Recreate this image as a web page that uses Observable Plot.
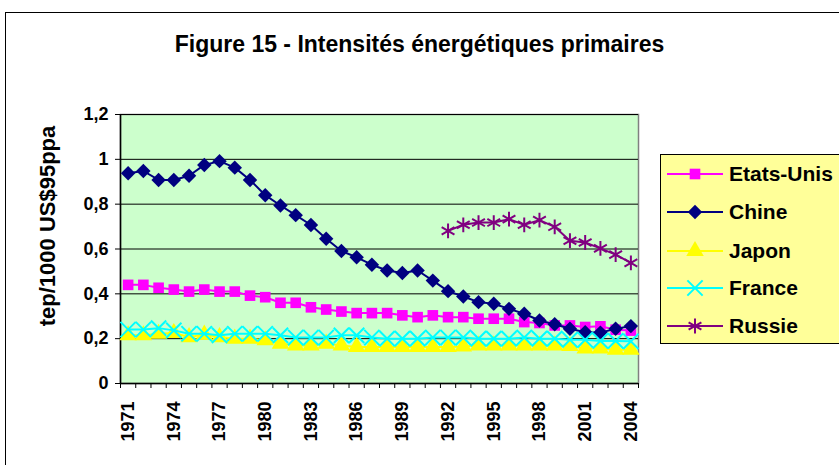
<!DOCTYPE html>
<html><head><meta charset="utf-8">
<script src="https://cdn.jsdelivr.net/npm/d3@7"></script>
<script src="https://cdn.jsdelivr.net/npm/@observablehq/plot@0.6"></script>
<style>
body{margin:0;background:#fff;font-family:"Liberation Sans",Arial,sans-serif;}
#wrap{position:relative;width:839px;height:465px;overflow:hidden;}
#border{position:absolute;left:5px;top:12px;width:860px;height:480px;border:1px solid #000;}
#chart{position:absolute;left:0;top:0;}
#title{position:absolute;left:0;width:839px;top:31px;text-align:center;font-weight:bold;font-size:23px;}
#ytitle{position:absolute;left:48px;top:226px;transform:translate(-50%,-50%) rotate(-90deg);white-space:nowrap;font-weight:bold;font-size:22px;}
#legend{position:absolute;left:660px;top:154px;width:200px;height:188px;background:#FFFF99;border:1px solid #000;}
.row{position:absolute;left:0;height:30px;}
.row svg{position:absolute;left:6px;top:0;}
.row span{position:absolute;left:68px;top:3px;font-weight:bold;font-size:21px;white-space:nowrap;}
</style></head>
<body>
<div id="wrap">
<div id="border"></div>
<div id="chart"></div>
<div id="title">Figure 15 - Intensités énergétiques primaires</div>
<div id="ytitle">tep/1000 US$95ppa</div>
<div id="legend"></div>
</div>
<script>
const years = [1971,1972,1973,1974,1975,1976,1977,1978,1979,1980,1981,1982,1983,1984,1985,1986,1987,1988,1989,1990,1991,1992,1993,1994,1995,1996,1997,1998,1999,2000,2001,2002,2003,2004];
const etatsUnis = [0.44,0.44,0.427,0.419,0.41,0.419,0.41,0.41,0.392,0.385,0.36,0.36,0.34,0.33,0.321,0.314,0.314,0.314,0.304,0.296,0.304,0.296,0.296,0.289,0.289,0.289,0.274,0.27,0.259,0.259,0.252,0.255,0.24,0.236];
const chine = [0.938,0.948,0.908,0.908,0.927,0.975,0.992,0.963,0.908,0.84,0.794,0.751,0.707,0.646,0.591,0.563,0.53,0.504,0.493,0.504,0.459,0.412,0.388,0.363,0.356,0.333,0.311,0.281,0.264,0.244,0.229,0.227,0.244,0.256];
const japon = [0.215,0.215,0.222,0.225,0.207,0.218,0.207,0.2,0.2,0.193,0.178,0.17,0.17,0.178,0.17,0.163,0.163,0.163,0.163,0.163,0.163,0.163,0.165,0.17,0.17,0.17,0.17,0.17,0.17,0.167,0.156,0.156,0.151,0.151];
const france = [0.241,0.241,0.247,0.237,0.222,0.222,0.215,0.222,0.222,0.222,0.215,0.205,0.205,0.205,0.215,0.215,0.205,0.2,0.2,0.2,0.205,0.205,0.205,0.2,0.2,0.2,0.205,0.2,0.2,0.195,0.195,0.19,0.19,0.188];
const russieYears = [1992,1993,1994,1995,1996,1997,1998,1999,2000,2001,2002,2003,2004];
const russie = [0.681,0.708,0.718,0.718,0.733,0.708,0.729,0.699,0.637,0.629,0.603,0.575,0.538];
const yTicks = [0,0.2,0.4,0.6,0.8,1,1.2];
const yLabels = ["0","0,2","0,4","0,6","0,8","1","1,2"];
const xLabelYears = [1971,1974,1977,1980,1983,1986,1989,1992,1995,1998,2001,2004];
const series = [
  {name:"Etats-Unis", years:years, values:etatsUnis, color:"#FF00FF", symbol:"square", r:6, filled:true},
  {name:"Chine", years:years, values:chine, color:"#000080", symbol:"diamond2", r:6.5, filled:true},
  {name:"Japon", years:years, values:japon, color:"#FFFF00", symbol:"triangle", r:6.5, filled:true},
  {name:"France", years:years, values:france, color:"#00FFFF", symbol:"times", r:7, filled:false},
  {name:"Russie", years:russieYears, values:russie, color:"#800080", symbol:"asterisk", r:7, filled:false}
];
const boundaries = years.map(y => y - 0.5).concat([years[years.length-1] + 0.5]);

const marks = [
  Plot.frame({fill:"#CCFFCC", stroke:"#808080", strokeWidth:1.5}),
  Plot.gridY(yTicks, {stroke:"#000", strokeOpacity:1, strokeWidth:1}),
  Plot.ruleY([0], {stroke:"#000", strokeWidth:1.5}),
  Plot.ruleX([boundaries[0]], {stroke:"#000", strokeWidth:1.5}),
  Plot.axisY({ticks:yTicks, tickFormat:d => yLabels[yTicks.indexOf(d)], tickSize:5, tickPadding:7, fontSize:18, fontWeight:"bold", label:null}),
  Plot.axisX({ticks:boundaries, tickFormat:() => "", tickSize:5, label:null}),
  Plot.axisX({ticks:xLabelYears, tickFormat:d => String(d), tickSize:0, tickPadding:18, tickRotate:-90, fontSize:18, fontWeight:"bold", label:null})
];
for (const s of series) {
  const data = s.years.map((y,i) => ({year:y, value:s.values[i]}));
  marks.push(Plot.line(data, {x:"year", y:"value", stroke:s.color, strokeWidth:2}));
  marks.push(Plot.dot(data, {x:"year", y:"value", symbol:() => s.symbol, r:s.r,
    fill: s.filled ? s.color : "none", stroke: s.filled ? "none" : s.color, strokeWidth:2}));
}
const chart = Plot.plot({
  width:839, height:465,
  marginLeft:120, marginRight:201, marginTop:114, marginBottom:82,
  x:{type:"linear", domain:[1970.5, 2004.5]},
  y:{domain:[0,1.2]},
  symbol:{type:"identity"},
  style:{background:"transparent", fontFamily:"'Liberation Sans', Arial, sans-serif", color:"#000", overflow:"visible"},
  marks
});
document.getElementById("chart").appendChild(chart);

// legend
const leg = document.getElementById("legend");
const rowsY = [173, 211, 250, 287, 325];
series.forEach((s,i) => {
  const row = document.createElement("div");
  row.className = "row";
  row.style.top = (rowsY[i] - 154 - 15) + "px";
  const size = Math.PI * s.r * s.r;
  const symMap = {square:d3.symbolSquare, diamond2:d3.symbolDiamond2, triangle:d3.symbolTriangle, times:d3.symbolTimes, asterisk:d3.symbolAsterisk};
  const path = d3.symbol(symMap[s.symbol], size)();
  row.innerHTML = `<svg width="60" height="30"><line x1="0" x2="56" y1="15" y2="15" stroke="${s.color}" stroke-width="2"/>
    <path transform="translate(28,15)" d="${path}" fill="${s.filled ? s.color : 'none'}" stroke="${s.filled ? 'none' : s.color}" stroke-width="2"/></svg><span>${s.name}</span>`;
  leg.appendChild(row);
});
</script>
</body></html>
